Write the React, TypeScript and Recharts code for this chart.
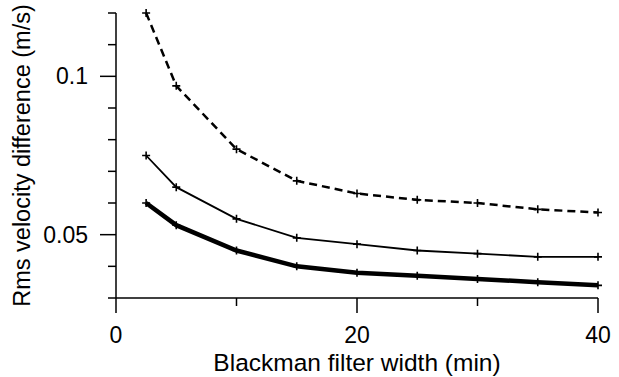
import React from 'react';
import { LineChart, Line, XAxis, YAxis } from 'recharts';

const filterWidths = [2.5, 5, 10, 15, 20, 25, 30, 35, 40];
const dashedSeries = [0.12, 0.097, 0.077, 0.067, 0.063, 0.061, 0.06, 0.058, 0.057];
const thinSeries = [0.075, 0.065, 0.055, 0.049, 0.047, 0.045, 0.044, 0.043, 0.043];
const thickSeries = [0.06, 0.053, 0.045, 0.04, 0.038, 0.037, 0.036, 0.035, 0.034];

const xTicks = [0, 10, 20, 30, 40];
const xLabelled = [0, 20, 40];
const yTicks = [0.03, 0.04, 0.05, 0.06, 0.07, 0.08, 0.09, 0.1, 0.11, 0.12];
const yLabelled = [0.05, 0.1];

const data = filterWidths.map((w, i) => ({
  w,
  dashed: dashedSeries[i],
  thin: thinSeries[i],
  thick: thickSeries[i],
}));

const FONT = '"Liberation Sans", Arial, Helvetica, sans-serif';

const PlusDot = (props: any) => {
  const { cx, cy, index } = props;
  if (cx == null || cy == null) return null;
  return (
    <path
      key={`p-${index}`}
      d={`M${cx - 4},${cy}h8M${cx},${cy - 4}v8`}
      stroke="#000"
      strokeWidth={1.6}
      fill="none"
    />
  );
};

const XTick = (props: any) => {
  const { x, y, payload } = props;
  const labelled = xLabelled.includes(payload.value);
  return (
    <g>
      <line x1={x} y1={y} x2={x} y2={y + (labelled ? 15 : 8)} stroke="#000" strokeWidth={1.5} />
      {labelled && (
        <text x={x} y={y + 45} textAnchor="middle" fontSize={23} fontFamily={FONT} fill="#000">
          {payload.value}
        </text>
      )}
    </g>
  );
};

const YTick = (props: any) => {
  const { x, y, payload } = props;
  const labelled = yLabelled.some((v) => Math.abs(v - payload.value) < 1e-9);
  return (
    <g>
      <line x1={x} y1={y} x2={x - (labelled ? 16 : 8)} y2={y} stroke="#000" strokeWidth={1.5} />
      {labelled && (
        <text x={x - 28} y={y + 8} textAnchor="end" fontSize={23} fontFamily={FONT} fill="#000">
          {String(payload.value)}
        </text>
      )}
    </g>
  );
};

export default function App() {
  return (
    <div style={{ position: 'absolute', left: 0, top: 0, width: 619, height: 377, background: '#fff' }}>
      <LineChart width={619} height={377} data={data} margin={{ top: 13, right: 21, left: 0, bottom: 0 }}>
        <XAxis
          dataKey="w"
          type="number"
          domain={[0, 40]}
          ticks={xTicks}
          tickSize={0}
          tickMargin={0}
          tickLine={false}
          tick={<XTick />}
          height={79}
          axisLine={{ stroke: '#000', strokeWidth: 1.5 }}
          interval={0}
          label={{
            value: 'Blackman filter width (min)',
            position: 'insideBottom',
            offset: 6,
            fontSize: 24.5,
            fontFamily: FONT,
            fill: '#000',
          }}
        />
        <YAxis
          type="number"
          domain={[0.03, 0.12]}
          ticks={yTicks}
          tickSize={0}
          tickMargin={0}
          tickLine={false}
          tick={<YTick />}
          width={116}
          axisLine={{ stroke: '#000', strokeWidth: 1.5 }}
          interval={0}
          label={{
            value: 'Rms velocity difference (m/s)',
            angle: -90,
            position: 'insideLeft',
            offset: 0,
            dx: 22,
            fontSize: 23.5,
            fontFamily: FONT,
            fill: '#000',
            style: { textAnchor: 'middle' },
          }}
        />
        <Line
          type="linear"
          dataKey="dashed"
          stroke="#000"
          strokeWidth={2.5}
          strokeDasharray="8 5"
          dot={<PlusDot />}
          isAnimationActive={false}
        />
        <Line
          type="linear"
          dataKey="thin"
          stroke="#000"
          strokeWidth={1.8}
          dot={<PlusDot />}
          isAnimationActive={false}
        />
        <Line
          type="linear"
          dataKey="thick"
          stroke="#000"
          strokeWidth={4.5}
          dot={<PlusDot />}
          isAnimationActive={false}
        />
      </LineChart>
    </div>
  );
}
